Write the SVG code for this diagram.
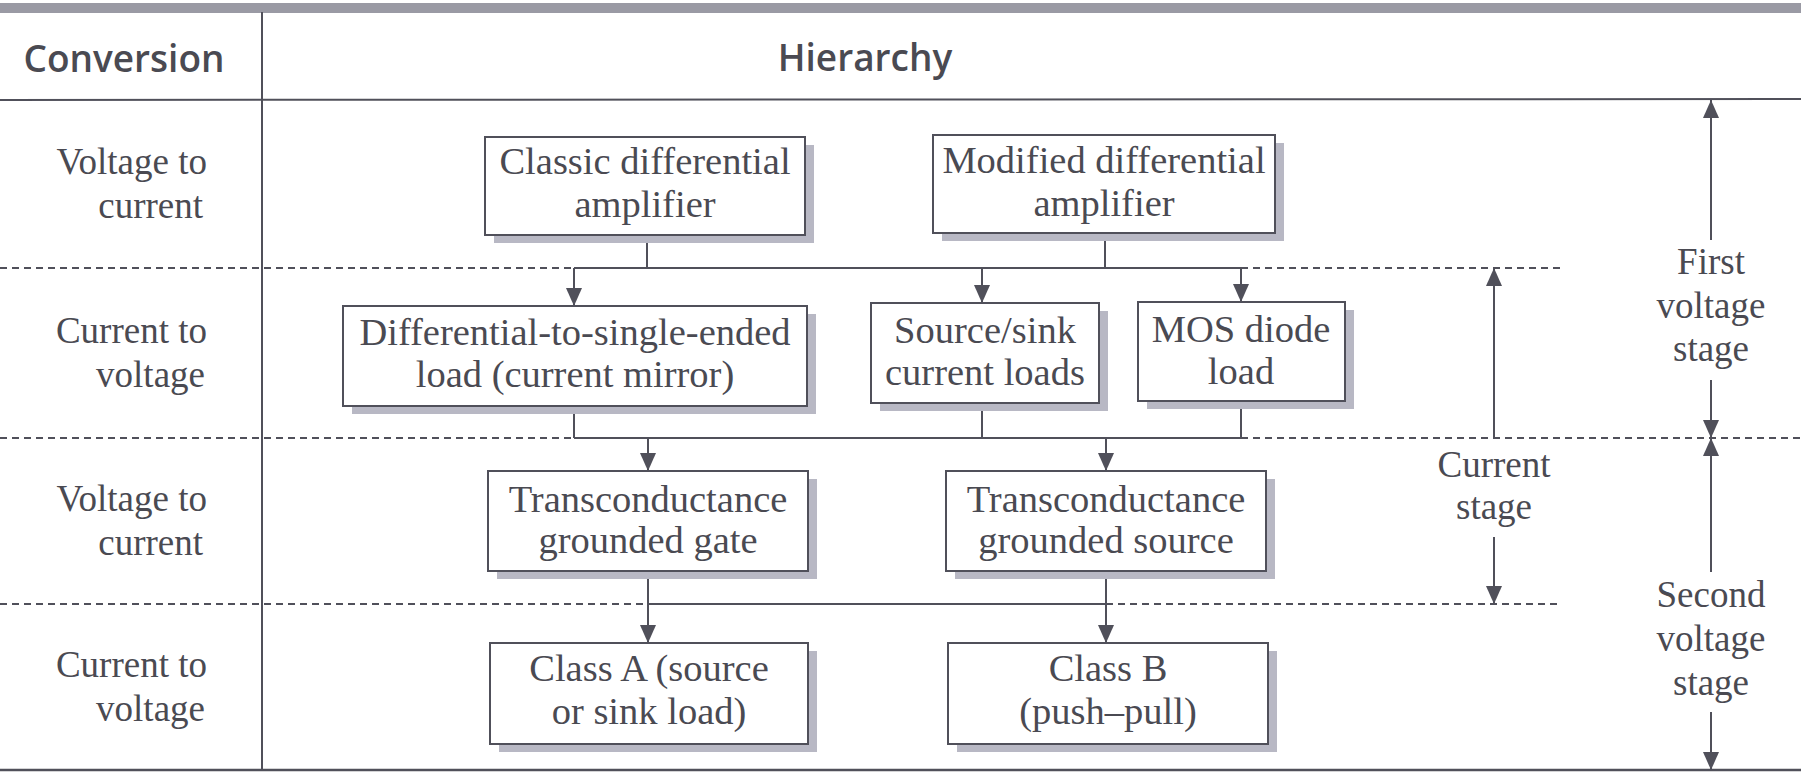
<svg xmlns="http://www.w3.org/2000/svg" width="1801" height="777" viewBox="0 0 1801 777">
<style>
.bg{fill:#ffffff}
.t{font-family:"Liberation Serif","Times New Roman",serif;font-size:37px;fill:#4a4a52}
.b{font-size:38.5px}
.h{font-family:"Open Sans","Liberation Sans",sans-serif;font-size:37px;font-weight:600;fill:#4a4a52}
.c{text-anchor:middle}
.r{text-anchor:end}
.box{fill:#ffffff;stroke:#50505a;stroke-width:2}
.sh{fill:#b8b8c4}
.ln{stroke:#50505a;stroke-width:2;fill:none}
.dash{stroke:#50505a;stroke-width:2;stroke-dasharray:7 5;fill:none}
.arr{stroke:#50505a;stroke-width:2;fill:none;marker-end:url(#ah)}
</style>
<defs>
<marker id="ah" viewBox="0 0 18 16" refX="18" refY="8" markerWidth="18" markerHeight="16" markerUnits="userSpaceOnUse" orient="auto">
<path d="M0,0 L18,8 L0,16 z" fill="#50505a"/>
</marker>
</defs>
<rect class="bg" x="0" y="0" width="1801" height="777"/>
<g id="table">
<rect x="0" y="3" width="1801" height="10" fill="#9a9aa4"/>
<line class="ln" x1="262" y1="12" x2="262" y2="770"/>
<line class="ln" x1="0" y1="100" x2="1801" y2="99"/>
<line x1="0" y1="770" x2="1801" y2="770" stroke="#50505a" stroke-width="2.5"/>
<text class="h c" x="124" y="72">Conversion</text>
<text class="h c" x="865" y="71">Hierarchy</text>
<path class="dash" d="M0,268 H574 M1241,268 H1562"/>
<path class="dash" d="M0,438 H574 M1241,438 H1801"/>
<path class="dash" d="M0,604 H648 M1106,604 H1562"/>
</g>
<g id="row-labels">
<text class="t r" x="207" y="174">Voltage to</text>
<text class="t r" x="203" y="218">current</text>
<text class="t r" x="207" y="343">Current to</text>
<text class="t r" x="205" y="387">voltage</text>
<text class="t r" x="207" y="511">Voltage to</text>
<text class="t r" x="203" y="555">current</text>
<text class="t r" x="207" y="677">Current to</text>
<text class="t r" x="205" y="721">voltage</text>
</g>
<g id="connectors">
<path class="ln" d="M647,235 V268 M1105,233 V268 M574,268 H1241"/>
<line class="arr" x1="574" y1="268" x2="574" y2="306"/>
<line class="arr" x1="982" y1="268" x2="982" y2="303"/>
<line class="arr" x1="1241" y1="268" x2="1241" y2="302"/>
<path class="ln" d="M574,406 V438 M982,403 V438 M1241,401 V438 M574,438 H1241"/>
<line class="arr" x1="648" y1="438" x2="648" y2="471"/>
<line class="arr" x1="1106" y1="438" x2="1106" y2="471"/>
<path class="ln" d="M648,604 H1106"/>
<line class="arr" x1="648" y1="571" x2="648" y2="643"/>
<line class="arr" x1="1106" y1="571" x2="1106" y2="643"/>
<line class="arr" x1="1711" y1="240" x2="1711" y2="100"/>
<line class="arr" x1="1711" y1="380" x2="1711" y2="438"/>
<line class="arr" x1="1711" y1="572" x2="1711" y2="438"/>
<line class="arr" x1="1711" y1="712" x2="1711" y2="770"/>
<line class="arr" x1="1494" y1="438" x2="1494" y2="268"/>
<line class="arr" x1="1494" y1="537" x2="1494" y2="604"/>
</g>
<g id="n-classic">
<rect class="sh" x="494" y="145" width="320" height="98"/>
<rect class="box" x="485" y="137" width="320" height="98"/>
<text class="t b c" x="645" y="174">Classic differential</text>
<text class="t b c" x="645" y="217">amplifier</text>
</g>
<g id="n-modified">
<rect class="sh" x="942" y="143" width="342" height="98"/>
<rect class="box" x="933" y="135" width="342" height="98"/>
<text class="t b c" x="1104" y="173">Modified differential</text>
<text class="t b c" x="1104" y="216">amplifier</text>
</g>
<g id="n-diffload">
<rect class="sh" x="352" y="314" width="464" height="100"/>
<rect class="box" x="343" y="306" width="464" height="100"/>
<text class="t b c" x="575" y="345">Differential-to-single-ended</text>
<text class="t b c" x="575" y="387">load (current mirror)</text>
</g>
<g id="n-sourcesink">
<rect class="sh" x="880" y="311" width="228" height="100"/>
<rect class="box" x="871" y="303" width="228" height="100"/>
<text class="t b c" x="985" y="343">Source/sink</text>
<text class="t b c" x="985" y="385">current loads</text>
</g>
<g id="n-mosdiode">
<rect class="sh" x="1147" y="310" width="207" height="99"/>
<rect class="box" x="1138" y="302" width="207" height="99"/>
<text class="t b c" x="1241" y="342">MOS diode</text>
<text class="t b c" x="1241" y="384">load</text>
</g>
<g id="n-tgate">
<rect class="sh" x="497" y="479" width="320" height="100"/>
<rect class="box" x="488" y="471" width="320" height="100"/>
<text class="t b c" x="648" y="512">Transconductance</text>
<text class="t b c" x="648" y="553">grounded gate</text>
</g>
<g id="n-tsource">
<rect class="sh" x="955" y="479" width="320" height="100"/>
<rect class="box" x="946" y="471" width="320" height="100"/>
<text class="t b c" x="1106" y="512">Transconductance</text>
<text class="t b c" x="1106" y="553">grounded source</text>
</g>
<g id="n-classa">
<rect class="sh" x="499" y="651" width="318" height="101"/>
<rect class="box" x="490" y="643" width="318" height="101"/>
<text class="t b c" x="649" y="681">Class A (source</text>
<text class="t b c" x="649" y="724">or sink load)</text>
</g>
<g id="n-classb">
<rect class="sh" x="957" y="651" width="320" height="101"/>
<rect class="box" x="948" y="643" width="320" height="101"/>
<text class="t b c" x="1108" y="681">Class B</text>
<text class="t b c" x="1108" y="724">(push–pull)</text>
</g>
<g id="stage-labels">
<text class="t c" x="1711" y="274">First</text>
<text class="t c" x="1711" y="318">voltage</text>
<text class="t c" x="1711" y="361">stage</text>
<text class="t c" x="1494" y="477">Current</text>
<text class="t c" x="1494" y="519">stage</text>
<text class="t c" x="1711" y="607">Second</text>
<text class="t c" x="1711" y="651">voltage</text>
<text class="t c" x="1711" y="695">stage</text>
</g>
</svg>
